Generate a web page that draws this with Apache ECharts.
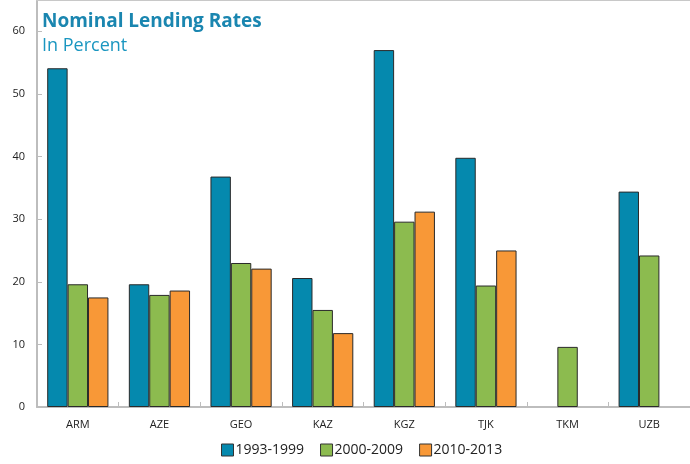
<!DOCTYPE html>
<html>
<head>
<meta charset="utf-8">
<script src="https://cdn.jsdelivr.net/npm/echarts@6/dist/echarts.min.js"></script>
<style>
  html, body { margin: 0; padding: 0; background: #fff; }
  #chart { width: 690px; height: 464px; }
</style>
</head>
<body>
<div id="chart"></div>
<script>
// Country codes along the category axis
const countries = ['ARM', 'AZE', 'GEO', 'KAZ', 'KGZ', 'TJK', 'TKM', 'UZB'];

// Average nominal lending rates, percent (null = no data)
const period1993_1999 = [54.1, 19.6, 36.8, 20.6, 57.0, 39.8, null, 34.4];
const period2000_2009 = [19.6, 17.9, 23.0, 15.5, 29.6, 19.4, 9.6, 24.2];
const period2010_2013 = [17.5, 18.6, 22.1, 11.8, 31.2, 25.0, null, null];

const seriesNames = ['1993-1999', '2000-2009', '2010-2013'];
const seriesColors = ['#0589AE', '#8CBB4F', '#F89837'];

const FONT = '"Open Sans", "Noto Sans", sans-serif';

const chart = echarts.init(document.getElementById('chart'));

function barSeries(name, data, color) {
  return {
    name: name,
    type: 'bar',
    data: data,
    barGap: '0%',
    barCategoryGap: '25%',
    itemStyle: { color: color, borderColor: '#2a2a2a', borderWidth: 1 },
    emphasis: { disabled: true }
  };
}

chart.setOption({
  animation: false,
  title: {
    text: 'Nominal Lending Rates',
    subtext: 'In Percent',
    left: 37,
    top: 7,
    itemGap: 6,
    textStyle: { fontFamily: FONT, fontSize: 19, fontWeight: 'bold', color: '#1A86B0' },
    subtextStyle: { fontFamily: FONT, fontSize: 18, color: '#1A96C0' }
  },
  legend: {
    bottom: 2,
    left: 216,
    itemWidth: 12,
    itemHeight: 12,
    itemGap: 16,
    icon: 'rect',
    textStyle: { fontFamily: FONT, fontSize: 14, color: '#222', padding: [0, 0, 0, -3] },
    data: seriesNames.map((n, i) => ({
      name: n,
      itemStyle: { color: seriesColors[i], borderColor: '#333', borderWidth: 1 }
    }))
  },
  grid: { left: 37, right: 0, top: 0, bottom: 57, containLabel: false },
  xAxis: [
    {
      type: 'category',
      data: countries,
      axisLine: { lineStyle: { color: '#bdbdbd', width: 2 } },
      axisTick: { show: true, inside: true, length: 5, lineStyle: { color: '#bdbdbd' } },
      axisLabel: { fontFamily: FONT, fontSize: 11, color: '#222', margin: 12 }
    },
    {
      // plain rule along the top edge of the plot
      type: 'category',
      position: 'top',
      data: countries,
      axisLine: { lineStyle: { color: '#c8c8c8', width: 2 } },
      axisTick: { show: false },
      axisLabel: { show: false }
    }
  ],
  yAxis: {
    type: 'value',
    min: 0,
    max: 65,
    interval: 10,
    splitLine: { show: false },
    axisLine: { show: true, lineStyle: { color: '#bdbdbd', width: 2 } },
    axisTick: { show: true, inside: true, length: 5, lineStyle: { color: '#bdbdbd' } },
    axisLabel: {
      fontFamily: FONT, fontSize: 11, color: '#222', margin: 12,
      showMaxLabel: false,
      formatter: v => (v % 10 === 0 ? String(v) : '')
    }
  },
  series: [
    barSeries(seriesNames[0], period1993_1999, seriesColors[0]),
    barSeries(seriesNames[1], period2000_2009, seriesColors[1]),
    barSeries(seriesNames[2], period2010_2013, seriesColors[2])
  ]
});
</script>
</body>
</html>
